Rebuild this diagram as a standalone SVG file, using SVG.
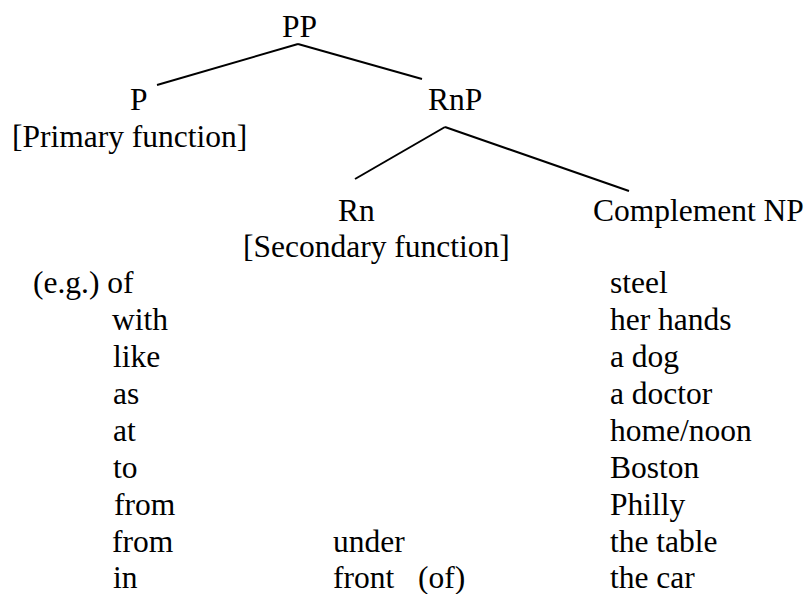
<svg xmlns="http://www.w3.org/2000/svg" width="804" height="594" viewBox="0 0 804 594">
<style>
text { font-family: "Liberation Serif", "Times New Roman", serif; font-size: 31.5px; fill: #000; }
.edge { stroke: #000; stroke-width: 2; fill: none; }
</style>
<rect width="804" height="594" fill="#fff"/>
<g id="connectors">
<line class="edge" x1="298" y1="44" x2="157" y2="85"/>
<line class="edge" x1="298" y1="44" x2="422" y2="79"/>
<line class="edge" x1="445" y1="127" x2="355" y2="179"/>
<line class="edge" x1="445" y1="127" x2="629" y2="191"/>
</g>
<g id="node-PP"><text x="282" y="37">PP</text></g>
<g id="node-P"><text x="130" y="110">P</text><text x="12" y="147">[Primary function]</text></g>
<g id="node-RnP"><text x="428" y="110">RnP</text></g>
<g id="node-Rn"><text x="338" y="221">Rn</text><text x="243" y="257">[Secondary function]</text></g>
<g id="node-NP"><text x="593" y="221">Complement NP</text></g>
<g id="examples">
<text x="33" y="293">(e.g.) of</text>
<text x="112" y="330">with</text>
<text x="113" y="367">like</text>
<text x="113" y="404">as</text>
<text x="113" y="441">at</text>
<text x="113" y="478">to</text>
<text x="114" y="515">from</text>
<text x="112" y="552">from</text>
<text x="113" y="588">in</text>
<text x="333" y="552">under</text>
<text x="333" y="588">front</text>
<text x="418" y="588">(of)</text>
<text x="610" y="293">steel</text>
<text x="610" y="330">her hands</text>
<text x="610" y="367">a dog</text>
<text x="610" y="404">a doctor</text>
<text x="610" y="441">home/noon</text>
<text x="610" y="478">Boston</text>
<text x="610" y="515">Philly</text>
<text x="610" y="552">the table</text>
<text x="610" y="588">the car</text>
</g>
</svg>
